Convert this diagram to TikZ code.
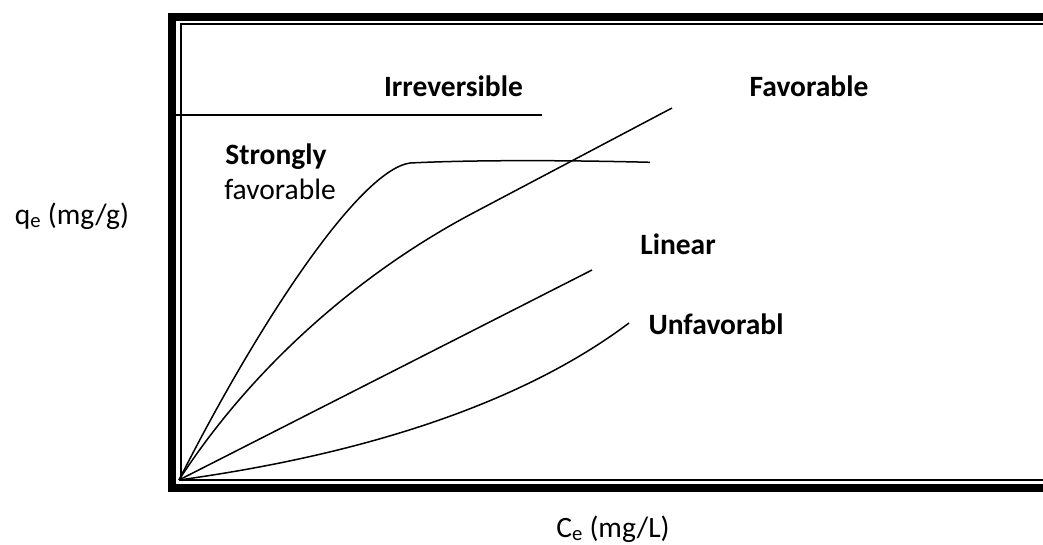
\documentclass[tikz,border=0pt]{standalone}
\usepackage{fontspec}
\setmainfont{Carlito}
\begin{document}
\begin{tikzpicture}[x=1pt,y=-1pt,
  lbl/.style={anchor=base,inner sep=0pt,font=\fontsize{29.5}{34}\selectfont},
  blbl/.style={lbl,font=\fontsize{29.5}{34}\selectfont\bfseries},
  curve/.style={line width=1.5pt,line join=round}]
\useasboundingbox (0,0) rectangle (1043,544);
% frame
\draw[line width=8pt] (1060,16.5) -- (171.5,16.5) -- (171.5,487.5) -- (1060,487.5);
\draw[line width=2pt] (1060,24) -- (180.5,24) -- (180.5,479.5) -- (1060,479.5);
\coordinate (O) at (179,480);
% irreversible
\coordinate (irrA) at (175,115);
\coordinate (irrB) at (542,115);
\draw[curve] (irrA) -- (irrB);
% strongly favorable
\coordinate (sfK) at (410,163);
\coordinate (sfE) at (650,162.3);
\draw[curve] (O) .. controls (260,320) and (360,170) .. (sfK)
  .. controls (470,160) and (560,160) .. (sfE);
% favorable
\coordinate (favM) at (475,212);
\coordinate (favE) at (672,108);
\draw[curve] (O) .. controls (250,370) and (357,274) .. (favM) -- (favE);
% linear
\coordinate (linE) at (592,270);
\draw[curve] (O) -- (linE);
% unfavorable
\coordinate (unfE) at (629,323);
\draw[curve] (O) .. controls (360,455) and (520,405) .. (unfE);
% labels
\node[blbl] (irr) at (453.5,96) {Irreversible};
\node[blbl] (fav) at (809,96) {Favorable};
\node[blbl] (str) at (276,164) {Strongly};
\node[lbl] (sfav) at (280,199) {favorable};
\node[blbl] (lin) at (678,254) {Linear};
\node[blbl] (unf) at (716,334) {Unfavorabl};
\node[lbl] (qe) at (72,224) {q\textsubscript{e} (mg/g)};
\node[lbl] (ce) at (613,537) {C\textsubscript{e} (mg/L)};
\end{tikzpicture}
\end{document}
